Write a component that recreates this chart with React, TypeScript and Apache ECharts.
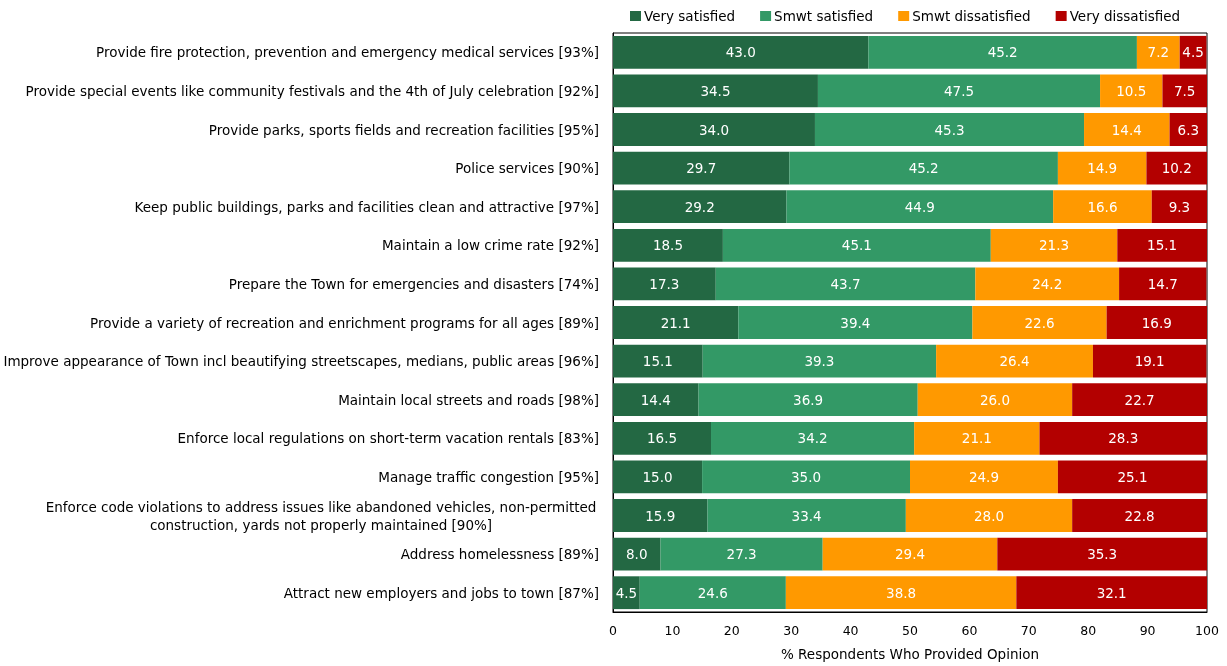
import React, { useEffect, useRef } from 'react';
import * as echarts from 'echarts';

const categories = [
  'Provide fire protection, prevention and emergency medical services [93%]',
  'Provide special events like community festivals and the 4th of July celebration [92%]',
  'Provide parks, sports fields and recreation facilities [95%]',
  'Police services [90%]',
  'Keep public buildings, parks and facilities clean and attractive [97%]',
  'Maintain a low crime rate [92%]',
  'Prepare the Town for emergencies and disasters [74%]',
  'Provide a variety of recreation and enrichment programs for all ages [89%]',
  'Improve appearance of Town incl beautifying streetscapes, medians, public areas [96%]',
  'Maintain local streets and roads [98%]',
  'Enforce local regulations on short-term vacation rentals [83%]',
  'Manage traffic congestion [95%]',
  'Enforce code violations to address issues like abandoned vehicles, non-permitted\nconstruction, yards not properly maintained [90%]',
  'Address homelessness [89%]',
  'Attract new employers and jobs to town [87%]',
];

const seriesNames = ['Very satisfied', 'Smwt satisfied', 'Smwt dissatisfied', 'Very dissatisfied'];

const verySatisfied = [43.0, 34.5, 34.0, 29.7, 29.2, 18.5, 17.3, 21.1, 15.1, 14.4, 16.5, 15.0, 15.9, 8.0, 4.5];
const smwtSatisfied = [45.2, 47.5, 45.3, 45.2, 44.9, 45.1, 43.7, 39.4, 39.3, 36.9, 34.2, 35.0, 33.4, 27.3, 24.6];
const smwtDissatisfied = [7.2, 10.5, 14.4, 14.9, 16.6, 21.3, 24.2, 22.6, 26.4, 26.0, 21.1, 24.9, 28.0, 29.4, 38.8];
const veryDissatisfied = [4.5, 7.5, 6.3, 10.2, 9.3, 15.1, 14.7, 16.9, 19.1, 22.7, 28.3, 25.1, 22.8, 35.3, 32.1];

const xTicks = [0, 10, 20, 30, 40, 50, 60, 70, 80, 90, 100];

const colors = ['#236843', '#339966', '#FF9900', '#B30000'];
const FONT = 'DejaVu Sans';

export default function App() {
  const ref = useRef<HTMLDivElement>(null);
  useEffect(() => {
    if (!ref.current) return;
    const chart = echarts.init(ref.current, undefined, { renderer: 'svg' });
    const values = [verySatisfied, smwtSatisfied, smwtDissatisfied, veryDissatisfied];
    chart.setOption({
      animation: false,
      textStyle: { fontFamily: FONT },
      legend: {
        top: 9,
        left: 630,
        padding: 0,
        icon: 'rect',
        itemWidth: 11,
        itemHeight: 10,
        itemGap: 25,
        textStyle: { fontFamily: FONT, fontSize: 13.5, color: '#000', padding: [0, 0, 0, -2] },
        data: seriesNames,
      },
      grid: {
        left: 613,
        right: 20,
        top: 33,
        bottom: 46,
        show: true,
        borderColor: '#000',
        borderWidth: 1,
        containLabel: false,
      },
      xAxis: {
        type: 'value',
        min: xTicks[0],
        max: xTicks[xTicks.length - 1],
        interval: 10,
        splitLine: { show: false },
        axisLine: { show: true, lineStyle: { color: '#000', width: 1 } },
        axisTick: { show: false },
        axisLabel: { color: '#000', fontSize: 12.5, fontFamily: FONT, margin: 12 },
        name: '% Respondents Who Provided Opinion',
        nameLocation: 'middle',
        nameGap: 35,
        nameTextStyle: { color: '#000', fontSize: 13.5, fontFamily: FONT },
      },
      yAxis: {
        type: 'category',
        inverse: true,
        data: categories,
        axisLine: { show: true, lineStyle: { color: '#000' } },
        axisTick: { show: false },
        axisLabel: {
          color: '#000',
          fontSize: 13.5,
          fontFamily: FONT,
          margin: 14,
          lineHeight: 18,
          formatter: (v: string) => {
            if (v.includes('\n')) {
              return v
                .split('\n')
                .map((l) => `{c|${l}}`)
                .join('\n');
            }
            return v;
          },
          rich: {
            c: { width: 556, align: 'center', fontSize: 13.5, fontFamily: FONT, color: '#000', lineHeight: 18 },
          },
        },
      },
      series: seriesNames.map((name, i) => ({
        name,
        type: 'bar',
        stack: 'total',
        barCategoryGap: '15%',
        data: values[i],
        itemStyle: { color: colors[i] },
        label: {
          show: true,
          position: 'inside',
          color: '#fff',
          fontSize: 13.5,
          fontFamily: FONT,
          formatter: (p: any) => Number(p.value).toFixed(1),
        },
      })),
    });
    return () => chart.dispose();
  }, []);
  return <div ref={ref} style={{ position: 'fixed', left: 0, top: 0, width: 1227, height: 666 }} />;
}
